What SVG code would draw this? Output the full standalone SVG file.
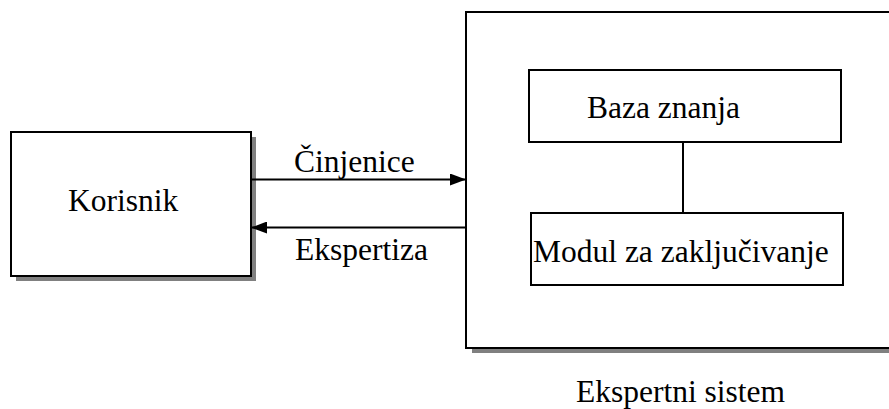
<svg xmlns="http://www.w3.org/2000/svg" width="889" height="409" viewBox="0 0 889 409">
<style>
.box{fill:#fff;stroke:#000;stroke-width:2}
.shadow{fill:#808080}
.t{font-family:"Liberation Serif","Times New Roman",serif;font-size:31.5px;fill:#000}
.ln{stroke:#000;stroke-width:2;fill:none}
</style>
<defs>
<marker id="ah" markerWidth="16" markerHeight="12" refX="16" refY="6" orient="auto" markerUnits="userSpaceOnUse">
<path d="M0,0 L16,6 L0,12 Z" fill="#000"/>
</marker>
</defs>
<rect width="889" height="409" fill="#fff"/>
<g id="ekspertni-sistem">
<rect class="shadow" x="472" y="17" width="430" height="336"/>
<rect class="box" x="466" y="12" width="430" height="336"/>
<text class="t" x="576" y="402">Ekspertni sistem</text>
</g>
<g id="korisnik">
<rect class="shadow" x="16" y="137" width="240" height="144"/>
<rect class="box" x="11" y="132" width="240" height="144"/>
<text class="t" x="68" y="211">Korisnik</text>
</g>
<g id="baza-znanja">
<rect class="box" x="529" y="70" width="312" height="72"/>
<text class="t" x="587" y="118">Baza znanja</text>
</g>
<g id="modul">
<rect class="box" x="531" y="213" width="312" height="72"/>
<text class="t" x="533" y="262">Modul za zaključivanje</text>
</g>
<g id="connectors">
<line class="ln" x1="251" y1="179.5" x2="466" y2="179.5" marker-end="url(#ah)"/>
<line class="ln" x1="466" y1="227.5" x2="251" y2="227.5" marker-end="url(#ah)"/>
<line class="ln" x1="683" y1="142" x2="683" y2="213"/>
<text class="t" x="294" y="172">Činjenice</text>
<text class="t" x="295" y="260">Ekspertiza</text>
</g>
</svg>
